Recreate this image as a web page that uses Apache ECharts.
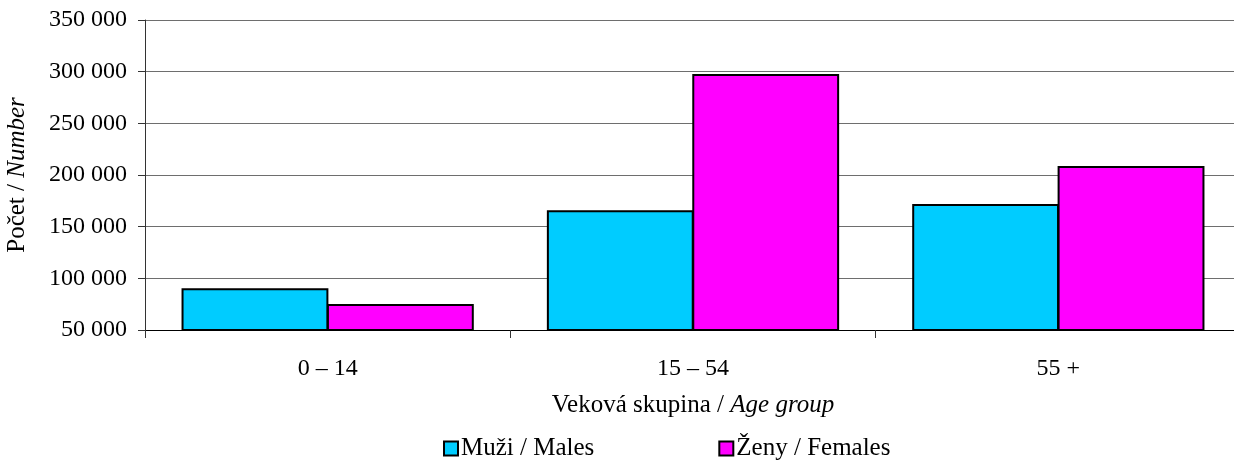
<!DOCTYPE html>
<html>
<head>
<meta charset="utf-8">
<script src="https://cdn.jsdelivr.net/npm/echarts@6/dist/echarts.min.js"></script>
<style>
  html, body { margin: 0; padding: 0; background: #fff; overflow: hidden; }
  #chart { width: 1241px; height: 463px; }
</style>
</head>
<body>
<div id="chart"></div>
<script>
const ageGroups = ["0 – 14", "15 – 54", "55 +"];
const males = [90400, 166000, 172000];
const females = [75200, 297700, 208700];
const seriesNames = ["Muži / Males", "Ženy / Females"];

const font = "'Liberation Serif', 'Times New Roman', serif";
let myChart = echarts.init(document.getElementById("chart"));

function fmt(v) {
  return String(v).replace(/\B(?=(\d{3})+(?!\d))/g, " ");
}

let option = {
  animation: false,
  textStyle: { fontFamily: font, color: "#000" },
  grid: { left: 145, right: 0, top: 20, bottom: 133, containLabel: false, outerBoundsMode: "none" },
  legend: {
    data: seriesNames,
    bottom: -3,
    left: 438,
    itemGap: 124,
    itemWidth: 14,
    itemHeight: 14,
    icon: "rect",
    textStyle: { fontFamily: font, fontSize: 25, color: "#000", padding: [0, 0, 0, -2] }
  },
  xAxis: {
    type: "category",
    data: ageGroups,
    axisLine: { lineStyle: { color: "#000", width: 1 } },
    axisTick: { show: true, length: 8, lineStyle: { color: "#333" } },
    axisLabel: { fontFamily: font, fontSize: 24, color: "#000", margin: 27 },
    name: "{a|Veková skupina / }{b|Age group}",
    nameLocation: "middle",
    nameGap: 63,
    nameTextStyle: {
      rich: {
        a: { fontFamily: font, fontSize: 25, color: "#000" },
        b: { fontFamily: font, fontSize: 25, color: "#000", fontStyle: "italic" }
      }
    }
  },
  yAxis: {
    type: "value",
    min: 50000,
    max: 350000,
    interval: 50000,
    axisLine: { show: true, lineStyle: { color: "#333", width: 1 } },
    axisTick: { show: true, length: 7, lineStyle: { color: "#333" } },
    axisLabel: { fontFamily: font, fontSize: 24, color: "#000", margin: 18, formatter: fmt },
    splitLine: { lineStyle: { color: "#6e6e6e", width: 1 } },
    name: "{a|Počet / }{b|Number}",
    nameLocation: "middle",
    nameGap: 115,
    nameTextStyle: {
      rich: {
        a: { fontFamily: font, fontSize: 25, color: "#000" },
        b: { fontFamily: font, fontSize: 25, color: "#000", fontStyle: "italic" }
      }
    }
  },
  series: [
    {
      name: seriesNames[0],
      type: "bar",
      data: males,
      barGap: "-1%",
      barCategoryGap: "20%",
      itemStyle: { color: "#00CCFF", borderColor: "#000", borderWidth: 2 }
    },
    {
      name: seriesNames[1],
      type: "bar",
      data: females,
      itemStyle: { color: "#FF00FF", borderColor: "#000", borderWidth: 2 }
    }
  ]
};
myChart.setOption(option);
</script>
</body>
</html>
